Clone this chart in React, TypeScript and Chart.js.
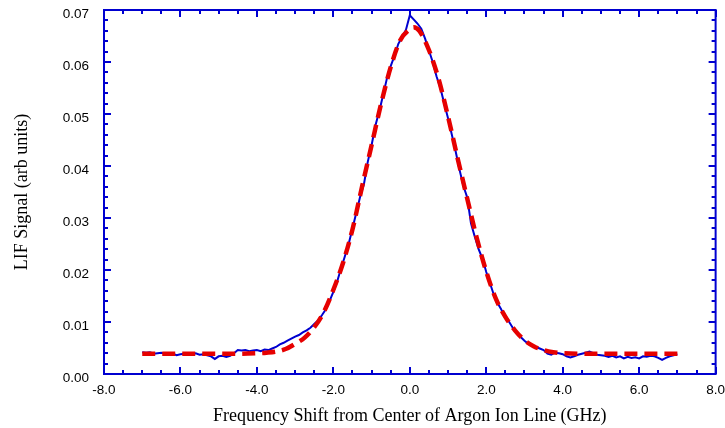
import React, { useEffect, useRef } from "react";
import { Chart, registerables } from "chart.js";

Chart.register(...registerables);

// Measured LIF signal (blue trace)
const MEAS_X = [
  -7.0, -6.9, -6.8, -6.7, -6.6, -6.5, -6.4, -6.3, -6.2, -6.1,
  -6.0, -5.9, -5.8, -5.7, -5.6, -5.5, -5.4, -5.3, -5.2, -5.1,
  -5.0, -4.9, -4.8, -4.7, -4.6, -4.5, -4.4, -4.3, -4.2, -4.1,
  -4.0, -3.9, -3.8, -3.7, -3.6, -3.5, -3.4, -3.3, -3.2, -3.1,
  -3.0, -2.9, -2.8, -2.7, -2.6, -2.5, -2.4, -2.3, -2.2, -2.1,
  -2.0, -1.9, -1.8, -1.7, -1.6, -1.5, -1.4, -1.3, -1.2, -1.1,
  -1.0, -0.9, -0.8, -0.7, -0.6, -0.5, -0.4, -0.3, -0.2, -0.1,
  0.0, 0.1, 0.2, 0.3, 0.4, 0.5, 0.6, 0.7, 0.8, 0.9,
  1.0, 1.1, 1.2, 1.3, 1.4, 1.5, 1.6, 1.7, 1.8, 1.9,
  2.0, 2.1, 2.2, 2.3, 2.4, 2.5, 2.6, 2.7, 2.8, 2.9,
  3.0, 3.1, 3.2, 3.3, 3.4, 3.5, 3.6, 3.7, 3.8, 3.9,
  4.0, 4.1, 4.2, 4.3, 4.4, 4.5, 4.6, 4.7, 4.8, 4.9,
  5.0, 5.1, 5.2, 5.3, 5.4, 5.5, 5.6, 5.7, 5.8, 5.9,
  6.0, 6.1, 6.2, 6.3, 6.4, 6.5, 6.6, 6.7, 6.8, 6.9,
  7.0,
];
const MEAS_Y = [
  0.0042, 0.0041, 0.0042, 0.0039, 0.0040, 0.0041, 0.0039, 0.0037, 0.0039, 0.0036,
  0.0038, 0.0039, 0.0037, 0.0038, 0.0040, 0.0037, 0.0038, 0.0036, 0.0034, 0.0029,
  0.0034, 0.0035, 0.0033, 0.0035, 0.0040, 0.0046, 0.0045, 0.0046, 0.0044, 0.0045,
  0.0046, 0.0044, 0.0047, 0.0046, 0.0049, 0.0052, 0.0057, 0.0060, 0.0064, 0.0068,
  0.0072, 0.0075, 0.0080, 0.0084, 0.0089, 0.0096, 0.0103, 0.0113, 0.0124, 0.0140,
  0.0158, 0.0178, 0.0203, 0.0226, 0.0250, 0.0280, 0.0310, 0.0341, 0.0365, 0.0408,
  0.0440, 0.0478, 0.0505, 0.0536, 0.0568, 0.0592, 0.0612, 0.0635, 0.0648, 0.0662,
  0.0690, 0.0682, 0.0674, 0.0664, 0.0645, 0.0622, 0.0600, 0.0572, 0.0550, 0.0520,
  0.0492, 0.0460, 0.0428, 0.0393, 0.0362, 0.0340, 0.0290, 0.0264, 0.0240, 0.0222,
  0.0196, 0.0174, 0.0152, 0.0136, 0.0123, 0.0112, 0.0100, 0.0088, 0.0079, 0.0071,
  0.0064, 0.0058, 0.0055, 0.0052, 0.0049, 0.0046, 0.0039, 0.0037, 0.0041, 0.0040,
  0.0038, 0.0034, 0.0032, 0.0034, 0.0037, 0.0039, 0.0041, 0.0043, 0.0040, 0.0037,
  0.0036, 0.0035, 0.0033, 0.0035, 0.0032, 0.0034, 0.0030, 0.0033, 0.0031, 0.0032,
  0.0030, 0.0034, 0.0033, 0.0035, 0.0034, 0.0031, 0.0027, 0.0031, 0.0034, 0.0036,
  0.0038,
];

// Fitted profile (red dashed)
const FIT_X = [
  -7.0, -6.0, -5.0, -4.5, -4.0, -3.75, -3.5, -3.25, -3.0, -2.75,
  -2.5, -2.25, -2.0, -1.75, -1.5, -1.25, -1.0, -0.75, -0.5, -0.25,
  0.0, 0.1, 0.25, 0.5, 0.75, 1.0, 1.25, 1.5, 1.75, 2.0,
  2.25, 2.5, 2.75, 3.0, 3.25, 3.5, 3.75, 4.0, 4.5, 5.0,
  6.0, 7.0,
];
const FIT_Y = [
  0.0039, 0.0039, 0.0039, 0.0039, 0.0040, 0.0041, 0.0043, 0.0048, 0.0058, 0.0070,
  0.0090, 0.0119, 0.0162, 0.0213, 0.0278, 0.0360, 0.0440, 0.0520, 0.0590, 0.0642,
  0.0663, 0.0667, 0.0660, 0.0623, 0.0568, 0.0495, 0.0415, 0.0338, 0.0262, 0.0197,
  0.0145, 0.0110, 0.0084, 0.0065, 0.0053, 0.0046, 0.0042, 0.0040, 0.0039, 0.0039,
  0.0039, 0.0039,
];

const X_MIN = -8;
const X_MAX = 8;
const X_MAJOR = 2;
const X_MINOR = 0.5;
const Y_MIN = 0;
const Y_MAX = 0.07;
const Y_MAJOR = 0.01;
const Y_MINOR = 0.002;

const X_TITLE = "Frequency Shift from Center of Argon Ion Line (GHz)";
const Y_TITLE = "LIF Signal (arb units)";

const FRAME = "#0000d0";
const BLUE = "#0000d0";
const RED = "#e60000";

const framePlugin = {
  id: "frameTicks",
  afterDatasetsDraw(chart: any) {
    const { ctx, chartArea: a, scales } = chart;
    const xs = scales.x;
    const ys = scales.y;
    ctx.save();
    ctx.strokeStyle = FRAME;
    ctx.lineWidth = 2;
    ctx.lineCap = "butt";
    ctx.beginPath();
    const nx = Math.round((X_MAX - X_MIN) / X_MINOR);
    for (let i = 0; i <= nx; i++) {
      const v = X_MIN + i * X_MINOR;
      const major = Math.abs(v / X_MAJOR - Math.round(v / X_MAJOR)) < 1e-6;
      const len = major ? 7 : 4;
      const px = Math.round(xs.getPixelForValue(v));
      ctx.moveTo(px, a.bottom);
      ctx.lineTo(px, a.bottom - len);
      ctx.moveTo(px, a.top);
      ctx.lineTo(px, a.top + len);
    }
    const ny = Math.round((Y_MAX - Y_MIN) / Y_MINOR);
    for (let i = 0; i <= ny; i++) {
      const v = Y_MIN + i * Y_MINOR;
      const major = Math.abs(v / Y_MAJOR - Math.round(v / Y_MAJOR)) < 1e-6;
      const len = major ? 7 : 4;
      const py = Math.round(ys.getPixelForValue(v));
      ctx.moveTo(a.left, py);
      ctx.lineTo(a.left + len, py);
      ctx.moveTo(a.right, py);
      ctx.lineTo(a.right - len, py);
    }
    ctx.stroke();
    ctx.strokeRect(a.left, a.top, a.right - a.left, a.bottom - a.top);
    ctx.restore();
  },
};

const hiddenGrid = (len: number) => ({
  display: true,
  drawOnChartArea: false,
  drawTicks: true,
  tickLength: len,
  color: "rgba(0,0,0,0)",
});

export default function App() {
  const ref = useRef<HTMLCanvasElement | null>(null);

  useEffect(() => {
    if (!ref.current) return;
    const meas = MEAS_X.map((x, i) => ({ x, y: MEAS_Y[i] }));
    const fit = FIT_X.map((x, i) => ({ x, y: FIT_Y[i] }));
    const chart = new Chart(ref.current, {
      type: "line",
      data: {
        datasets: [
          {
            label: "fit",
            data: fit,
            borderColor: RED,
            borderWidth: 4.5,
            borderDash: [13, 7],
            pointRadius: 0,
            fill: false,
            cubicInterpolationMode: "monotone",
            order: 0,
          },
          {
            label: "data",
            data: meas,
            borderColor: BLUE,
            borderWidth: 2,
            pointRadius: 0,
            fill: false,
            tension: 0,
            order: 1,
          },
        ],
      },
      options: {
        responsive: false,
        animation: false,
        layout: { padding: { top: 10, right: 9, left: 0, bottom: 0 } },
        plugins: {
          legend: { display: false },
          tooltip: { enabled: false },
        },
        scales: {
          x: {
            type: "linear",
            min: X_MIN,
            max: X_MAX,
            grid: hiddenGrid(8),
            border: { display: false },
            ticks: {
              stepSize: X_MAJOR,
              padding: 0,
              color: "#000",
              font: { family: "'Liberation Sans', Arial, sans-serif", size: 13.5 },
              callback: (v: any) => Number(v).toFixed(1),
              maxRotation: 0,
              autoSkip: false,
            },
            title: {
              display: true,
              text: X_TITLE,
              color: "#000",
              font: { family: "'Liberation Serif', 'Times New Roman', serif", size: 18 },
              padding: { top: 0, bottom: 1 },
            },
            afterFit: (s: any) => {
              s.height = 54;
            },
          },
          y: {
            type: "linear",
            min: Y_MIN,
            max: Y_MAX,
            grid: hiddenGrid(15),
            border: { display: false },
            ticks: {
              stepSize: Y_MAJOR,
              padding: 0,
              labelOffset: 4,
              color: "#000",
              font: { family: "'Liberation Sans', Arial, sans-serif", size: 13.5 },
              callback: (v: any) => Number(v).toFixed(2),
              autoSkip: false,
            },
            title: {
              display: true,
              text: Y_TITLE,
              color: "#000",
              font: { family: "'Liberation Serif', 'Times New Roman', serif", size: 18 },
              padding: { top: 11, bottom: 0 },
            },
            afterFit: (s: any) => {
              s.width = 104;
            },
          },
        },
      },
      plugins: [framePlugin],
    });
    return () => chart.destroy();
  }, []);

  return (
    <div style={{ position: "fixed", left: 0, top: 0, width: 725, height: 428, background: "#fff" }}>
      <canvas ref={ref} width={725} height={428} style={{ display: "block" }} />
    </div>
  );
}
